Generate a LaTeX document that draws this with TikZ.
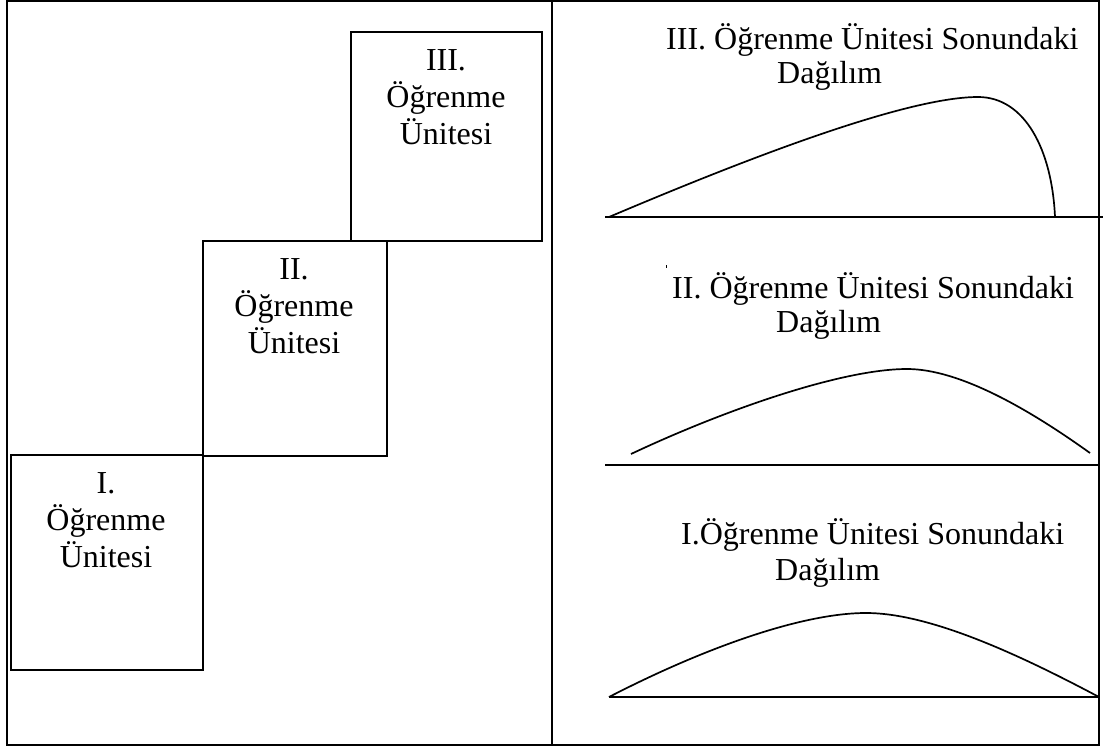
\documentclass[tikz,border=0pt]{standalone}
\usepackage{fontspec}
\setmainfont{Liberation Serif}
\begin{document}
\begin{tikzpicture}[x=1pt,y=-1pt,
  frameline/.style={line width=1.9pt},
  unitbox/.style={draw, line width=1.8pt, inner sep=0pt, anchor=north west},
  lbl/.style={inner sep=0pt, font=\fontsize{32}{37}\selectfont},
  curve/.style={line width=1.7pt},
  axis/.style={line width=1.8pt}]
\useasboundingbox (0,0) rectangle (1103,749);

% outer frame and the divider between the two halves
\draw[frameline] (7,1) rectangle (1099,745);
\draw[frameline] (552,1) -- (552,745);

% the three learning units as a staircase
\node[unitbox, minimum width=192pt, minimum height=215pt] (box1) at (10,454) {};
\node[unitbox, minimum width=184pt, minimum height=215pt] (box2) at (202,240) {};
\node[unitbox, minimum width=191pt, minimum height=209pt] (box3) at (350,31) {};

\node[lbl, anchor=base] (b1a) at (106,493) {I.};
\node[lbl, anchor=base] (b1b) at (106,530.5) {Öğrenme};
\node[lbl, anchor=base] (b1c) at (106,567.5) {Ünitesi};

\node[lbl, anchor=base] (b2a) at (294,279) {II.};
\node[lbl, anchor=base] (b2b) at (294,316.5) {Öğrenme};
\node[lbl, anchor=base] (b2c) at (294,353.5) {Ünitesi};

\node[lbl, anchor=base] (b3a) at (446,71) {III.};
\node[lbl, anchor=base] (b3b) at (446,108) {Öğrenme};
\node[lbl, anchor=base] (b3c) at (446,145) {Ünitesi};

% distribution after unit III
\node[lbl, anchor=base west] (d3a) at (666,50) {III. Öğrenme Ünitesi Sonundaki};
\node[lbl, anchor=base west] (d3b) at (777,84) {Dağılım};
\coordinate (a3s) at (605,217);
\coordinate (a3e) at (1103,217);
\draw[axis] (a3s) -- (a3e);
\draw[curve] (609,217) .. controls (720,170) and (900,97) .. (978,97)
  .. controls (1025,97) and (1052,150) .. (1055,217);

% distribution after unit II
\fill (665.5,264.5) rectangle (667,267.5);
\node[lbl, anchor=base west] (d2a) at (672,298) {II. Öğrenme Ünitesi Sonundaki};
\node[lbl, anchor=base west] (d2b) at (776,332) {Dağılım};
\coordinate (a2s) at (605,465);
\coordinate (a2e) at (1099,465);
\draw[axis] (a2s) -- (a2e);
\draw[curve] (631,454) .. controls (720,412) and (840,369) .. (907,369)
  .. controls (960,369) and (1030,410) .. (1090,453);

% distribution after unit I
\node[lbl, anchor=base west] (d1a) at (681,544) {I.Öğrenme Ünitesi Sonundaki};
\node[lbl, anchor=base west] (d1b) at (775,580) {Dağılım};
\coordinate (a1s) at (609,697);
\coordinate (a1e) at (1099,697);
\draw[axis] (a1s) -- (a1e);
\draw[curve] (a1s) .. controls (700,650) and (800,613) .. (866,613)
  .. controls (930,613) and (1020,655) .. (a1e);
\end{tikzpicture}
\end{document}
